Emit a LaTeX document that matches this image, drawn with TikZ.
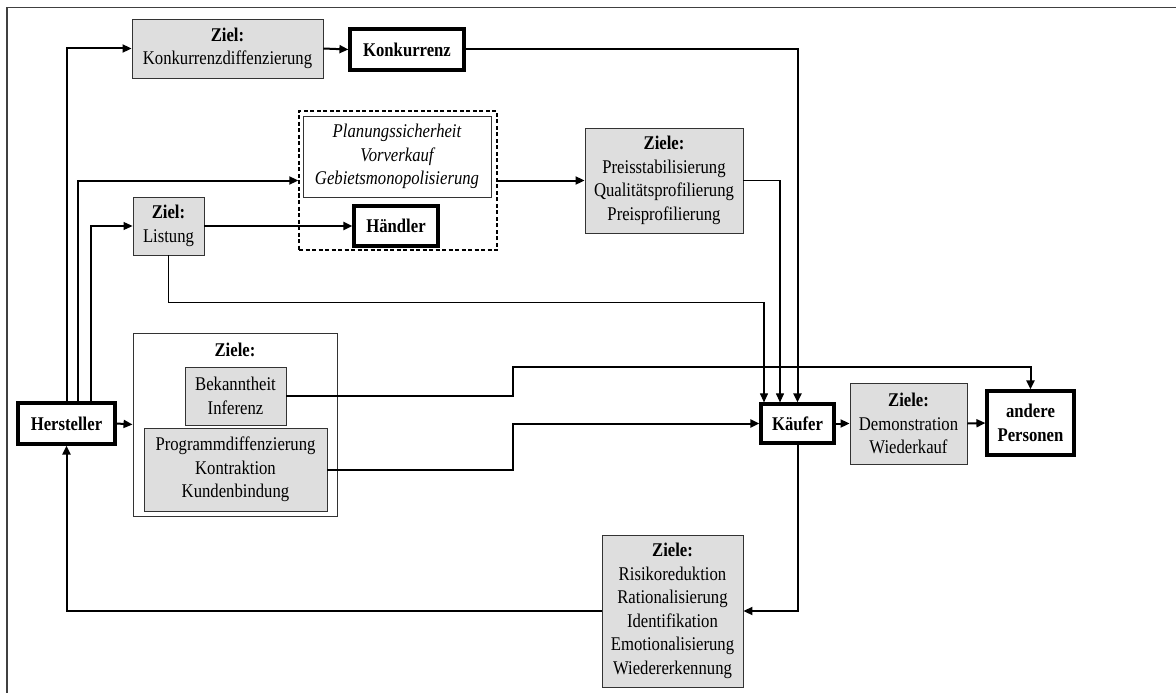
\documentclass[tikz,border=0pt]{standalone}
\usepackage{fontspec}
% Times-metric serif, set tall and narrow
\setmainfont{Liberation Serif}[FakeStretch=0.86]
\usetikzlibrary{arrows.meta,calc}
\begin{document}
\begin{tikzpicture}[x=1pt,y=-1pt,
  every node/.style={font=\fontsize{19.4}{23.5}\selectfont, align=center, inner sep=0pt},
  goal/.style={draw=black!80, fill=black!13, line width=0.9pt},
  actor/.style={draw=black, fill=white, line width=3.2pt, font=\fontsize{19.4}{23.5}\selectfont\bfseries},
  plainbox/.style={draw=black!80, fill=white, line width=0.9pt},
  groupbox/.style={draw=black, line width=1.4pt, dash pattern=on 4pt off 2.5pt},
  link/.style={line width=2pt, -{Triangle[length=9pt,width=8pt]}},
  thinlink/.style={line width=1.1pt, -{Triangle[length=9pt,width=8pt]}},
  size/.style 2 args={minimum width=#1pt, minimum height=#2pt}]
\useasboundingbox (0,0) rectangle (1176,693);

% frame
\draw[black!75, line width=1.3pt] (1176,7.5) -- (7,7.5) -- (7,693);

% upper row
\node[goal, size={191}{59}] (zk) at (227.5,48.5) {\textbf{Ziel:}\\Konkurrenzdiffenzierung};
\node[actor, size={114}{41}] (konk) at (407,49.5) {Konkurrenz};

% dealer group
\node[groupbox, size={198}{139}] (dashed) at (398,180.5) {};
\node[plainbox, size={188}{81}] (plan) at (397,156.5) {\itshape Planungssicherheit\\\itshape Vorverkauf\\\itshape Gebietsmonopolisierung};
\node[actor, size={84}{40}] (haendler) at (396,226) {Händler};
\node[goal, size={71}{58}] (listung) at (168.5,226) {\textbf{Ziel:}\\Listung};
\node[goal, size={158}{105}] (preis) at (664,180.5) {\textbf{Ziele:}\\Preisstabilisierung\\Qualitätsprofilierung\\Preisprofilierung};

% middle row
\node[actor, size={97}{41}] (herst) at (66.5,423.5) {Hersteller};
\node[plainbox, size={204}{183}] (ziele) at (235,424.5) {};
\node (zieletitle) at (235,350) {\textbf{Ziele:}};
\node[goal, size={101}{58}] (bek) at (235.5,396) {Bekanntheit\\Inferenz};
\node[goal, size={183}{83}] (prog) at (235.5,469.5) {Programmdiffenzierung\\Kontraktion\\Kundenbindung};
\node[actor, size={73}{39}] (kaeufer) at (797.5,423.5) {Käufer};
\node[goal, size={117}{81}] (demo) at (908.5,423.5) {\textbf{Ziele:}\\Demonstration\\Wiederkauf};
\node[actor, size={87}{64}] (andere) at (1030.5,423) {andere\\Personen};

% lower row
\node[goal, size={141}{152}] (risiko) at (672.5,611) {\textbf{Ziele:}\\Risikoreduktion\\Rationalisierung\\Identifikation\\Emotionalisierung\\Wiedererkennung};

% helper points
\coordinate (h2) at ($(herst.north)+(11.5,0)$);
\coordinate (h3) at ($(herst.north)+(24.5,0)$);
\coordinate (k1) at ($(kaeufer.north)+(-33.5,0)$);
\coordinate (k2) at ($(kaeufer.north)+(-17.5,0)$);
\coordinate (bend) at (513,367);

% connectors from Hersteller
\draw[link] (herst.north) |- (zk.west);
\draw[link] (h2) |- (dashed.west);
\draw[thinlink] (h3) |- (listung.west);
\draw[link] (herst.east) -- (ziele.west);

\draw[link] (zk.east) -- (konk.west);
\draw[link] (listung.east) -- (haendler.west);
\draw[link] (dashed.east) -- (preis.west);

% into Käufer
\draw[link] (konk.east) -| (kaeufer.north);
\draw[thinlink] (preis.east) -| (k2);
\draw[thinlink] (listung.south) -- ++(0,47) -| (k1);
\draw[link] (prog.east) -- (prog.east -| bend) |- (kaeufer.west);
\draw[link] (bek.east) -- (bek.east -| bend) -- (bend) -| (andere.north);

% Käufer onwards
\draw[link] (kaeufer.east) -- (demo.west);
\draw[link] (demo.east) -- (andere.west);
\draw[link] (kaeufer.south) |- (risiko.east);
\draw[link] (risiko.west) -| (herst.south);
\end{tikzpicture}
\end{document}
